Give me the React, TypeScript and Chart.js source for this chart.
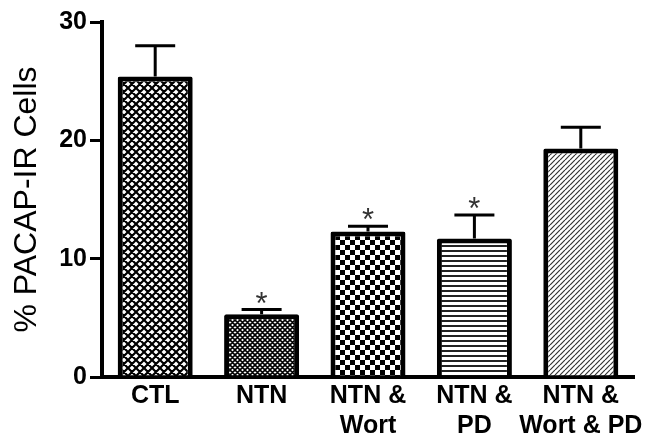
import React, { useEffect, useRef } from "react";
import { Chart, registerables } from "chart.js";

Chart.register(...registerables);

const categories: (string | string[])[] = ["CTL", "NTN", ["NTN &", "Wort"], ["NTN &", "PD"], ["NTN &", "Wort & PD"]];
const means = [25.4, 5.3, 12.3, 11.7, 19.3];
const sems = [2.6, 0.4, 0.45, 2.0, 1.8];
const marks = ["", "*", "*", "*", ""];
const yTicks = [0, 10, 20, 30];

const FONT = '"Liberation Sans", Arial, sans-serif';

function tile(w: number, h: number, draw: (ctx: CanvasRenderingContext2D) => void) {
  const c = document.createElement("canvas");
  c.width = w;
  c.height = h;
  const ctx = c.getContext("2d")!;
  ctx.fillStyle = "#fff";
  ctx.fillRect(0, 0, w, h);
  draw(ctx);
  const p = document.createElement("canvas").getContext("2d")!.createPattern(c, "repeat");
  return p as CanvasPattern;
}

function crossHatch(s: number, lw: number, color: string) {
  return tile(s, s, (ctx) => {
    ctx.strokeStyle = color;
    ctx.lineWidth = lw;
    ctx.beginPath();
    for (let k = -1; k <= 1; k++) {
      ctx.moveTo(k * s, 0);
      ctx.lineTo(k * s + s, s);
      ctx.moveTo(k * s + s, 0);
      ctx.lineTo(k * s, s);
    }
    ctx.stroke();
  });
}

function checker(s: number) {
  return tile(s, s, (ctx) => {
    ctx.fillStyle = "#000";
    ctx.fillRect(0, 0, s / 2, s / 2);
    ctx.fillRect(s / 2, s / 2, s / 2, s / 2);
  });
}

function hLines(h: number, lw: number, color: string) {
  return tile(4, h, (ctx) => {
    ctx.fillStyle = color;
    ctx.fillRect(0, 0, 4, lw);
  });
}

function diagLines(s: number, lw: number, color: string) {
  return tile(s, s, (ctx) => {
    ctx.strokeStyle = color;
    ctx.lineWidth = lw;
    ctx.beginPath();
    for (let k = -1; k <= 1; k++) {
      ctx.moveTo(k * s, s);
      ctx.lineTo(k * s + s, 0);
    }
    ctx.stroke();
  });
}

export default function App() {
  const ref = useRef<HTMLCanvasElement>(null);

  useEffect(() => {
    const fills = [
      crossHatch(8, 2.2, "#000"),
      crossHatch(5, 1.6, "#000"),
      checker(10),
      hLines(5, 2, "#222"),
      diagLines(5, 1.2, "#333"),
    ];

    const errorPlugin = {
      id: "errorBars",
      afterDatasetsDraw(chart: any) {
        const ctx = chart.ctx;
        const meta = chart.getDatasetMeta(0);
        const y = chart.scales.y;
        ctx.save();
        meta.data.forEach((bar: any, i: number) => {
          const top = y.getPixelForValue(means[i] + sems[i]);
          ctx.strokeStyle = "#000";
          ctx.lineWidth = 3;
          ctx.beginPath();
          ctx.moveTo(bar.x, bar.y);
          ctx.lineTo(bar.x, top);
          ctx.moveTo(bar.x - 20, top);
          ctx.lineTo(bar.x + 20, top);
          ctx.stroke();
          if (marks[i]) {
            ctx.font = "31px " + FONT;
            ctx.fillStyle = "#333";
            ctx.textAlign = "center";
            ctx.textBaseline = "alphabetic";
            ctx.fillText(marks[i], bar.x, top + 4);
          }
        });
        ctx.restore();
      },
    };

    const chart = new Chart(ref.current!, {
      type: "bar",
      data: {
        labels: categories,
        datasets: [
          {
            data: means,
            backgroundColor: fills,
            borderColor: "#000",
            borderWidth: 5,
            borderRadius: 2,
            categoryPercentage: 1,
            barPercentage: 0.705,
          },
        ],
      },
      options: {
        responsive: false,
        animation: false,
        events: [],
        layout: { padding: { top: 22, right: 18, left: 0, bottom: 0 } },
        plugins: { legend: { display: false }, tooltip: { enabled: false } },
        scales: {
          x: {
            grid: { display: true, drawOnChartArea: false, drawTicks: false },
            border: { display: true, color: "#000", width: 4 },
            ticks: {
              color: "#000",
              padding: 4,
              font: { family: FONT, size: 25, weight: "bold", lineHeight: 1.2 },
              maxRotation: 0,
              autoSkip: false,
            },
            afterFit(scale: any) {
              scale.height = 64;
            },
          },
          y: {
            min: 0,
            max: 30,
            afterBuildTicks(scale: any) {
              scale.ticks = yTicks.map((v) => ({ value: v }));
            },
            grid: { display: true, drawOnChartArea: false, drawTicks: true, tickLength: 12, lineWidth: 3, color: "#000" },
            border: { display: true, color: "#000", width: 4 },
            ticks: {
              color: "#000",
              padding: 3,
              font: { family: FONT, size: 25, weight: "bold" },
            },
            title: {
              display: true,
              text: "% PACAP-IR Cells",
              color: "#000",
              font: { family: FONT, size: 32, weight: "normal" },
              padding: { top: 8, bottom: 0 },
            },
            afterFit(scale: any) {
              scale.width = 102;
            },
          },
        },
      },
      plugins: [errorPlugin],
    } as any);

    return () => chart.destroy();
  }, []);

  return (
    <div style={{ position: "absolute", left: 0, top: 0, width: 652, height: 441, background: "#fff" }}>
      <canvas ref={ref} width={652} height={441} style={{ display: "block" }} />
    </div>
  );
}
